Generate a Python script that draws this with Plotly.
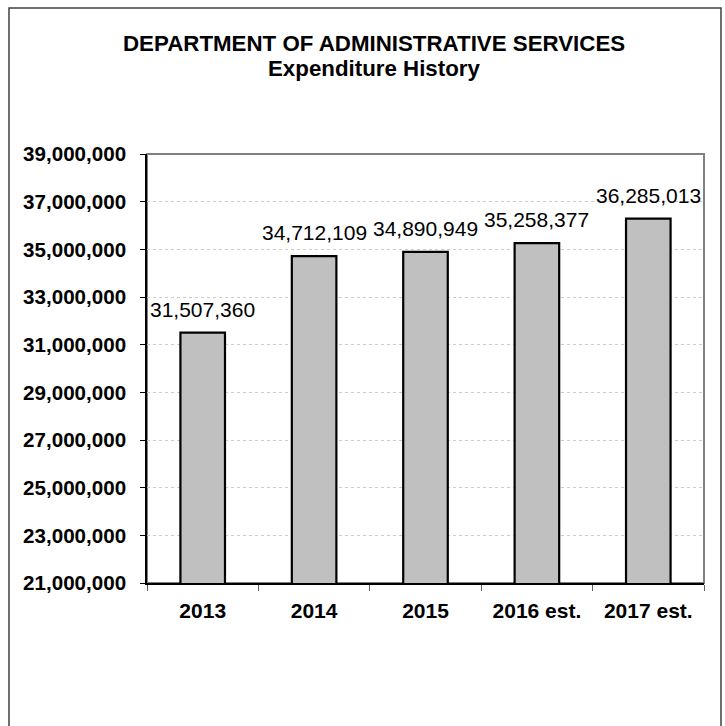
import plotly.graph_objects as go

categories = ["2013", "2014", "2015", "2016 est.", "2017 est."]
expenditures = [31507360, 34712109, 34890949, 35258377, 36285013]
y_ticks = list(range(21000000, 39000001, 2000000))
title_line1 = "DEPARTMENT OF ADMINISTRATIVE SERVICES"
title_line2 = "Expenditure History"

W, H = 725, 726
L, R, T, B = 147, 21, 154, 143
PW, PH = W - L - R, H - T - B
FONT = "Arial, Liberation Sans, sans-serif"


def px_x(p):
    return (p - L) / PW


def px_y(p):
    return (H - B - p) / PH


fig = go.Figure()
fig.add_trace(go.Bar(
    x=categories, y=expenditures,
    marker=dict(color="#C0C0C0", line=dict(color="#000000", width=2.2)),
    width=0.4,
    hoverinfo="skip",
))

annotations = []
for i, v in enumerate(expenditures):
    annotations.append(dict(
        x=i, y=v, xref="x", yref="y", text=f"{v:,}", showarrow=False,
        yanchor="bottom", xanchor="center", yshift=10,
        font=dict(family=FONT, size=21, color="#000000"),
    ))

annotations.append(dict(
    x=px_x(374), y=px_y(58), xref="paper", yref="paper", text=f"<b>{title_line1}</b>",
    showarrow=False, xanchor="center", yanchor="bottom",
    font=dict(family=FONT, size=22.3, color="#000000"),
))
annotations.append(dict(
    x=px_x(374), y=px_y(83), xref="paper", yref="paper", text=f"<b>{title_line2}</b>",
    showarrow=False, xanchor="center", yanchor="bottom",
    font=dict(family=FONT, size=22.3, color="#000000"),
))

shapes = [
    dict(type="rect", xref="paper", yref="paper", x0=0, x1=1, y0=0, y1=1,
         line=dict(color="#808080", width=2), layer="below"),
    dict(type="rect", xref="paper", yref="paper",
         x0=px_x(9), x1=px_x(721), y0=px_y(8), y1=px_y(740),
         line=dict(color="#404040", width=1.5), layer="above"),
]

fig.update_layout(
    width=W, height=H,
    margin=dict(l=L, r=R, t=T, b=B, pad=0),
    paper_bgcolor="white", plot_bgcolor="white",
    showlegend=False,
    annotations=annotations,
    shapes=shapes,
    font=dict(family=FONT, color="#000000"),
)

fig.update_xaxes(
    type="category", range=[-0.5, len(categories) - 0.5], autorange=False,
    categoryorder="array", categoryarray=categories,
    tickangle=0,
    showline=True, linecolor="#000000", linewidth=1.5,
    ticks="outside", tickson="boundaries", ticklen=6, tickcolor="#606060", tickwidth=1,
    tickfont=dict(family=FONT, size=21, color="#000000", weight="bold"),
    ticklabelstandoff=8,
    showgrid=False, zeroline=False,
)
fig.update_yaxes(
    range=[21000000, 39000000], autorange=False,
    tickvals=y_ticks, tickformat=",d",
    showline=True, linecolor="#000000", linewidth=1.5,
    ticks="outside", ticklen=5, tickcolor="#000000", tickwidth=1,
    tickfont=dict(family=FONT, size=20.6, color="#000000", weight="bold"),
    ticklabelstandoff=10,
    showgrid=True, gridcolor="#CCCCCC", griddash="dot", gridwidth=1,
    zeroline=False,
)

fig.write_html("out.html")
